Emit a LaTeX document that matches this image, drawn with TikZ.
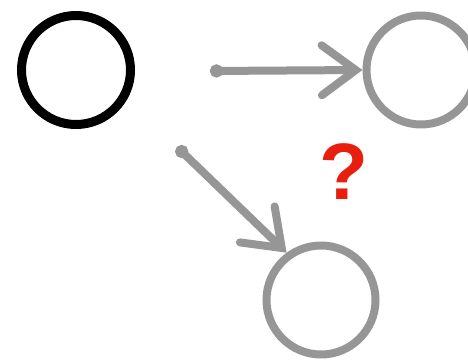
\documentclass[tikz,border=0pt]{standalone}
\usepackage{fontspec}
\setmainfont{Liberation Sans}
\usetikzlibrary{arrows.meta}
\definecolor{sketchgray}{RGB}{150,150,150}
\definecolor{qred}{RGB}{232,30,14}
\tikzset{
  blob/.style={circle, draw, inner sep=0pt, minimum size=109pt},
  sketchline/.style={draw=sketchgray, line width=8pt, line cap=round,
    {Circle[length=13pt]}-{Straight Barb[length=34pt, width=50pt, line cap=round]}},
}
\begin{document}
\begin{tikzpicture}[x=1pt, y=-1pt]
\useasboundingbox (0,0) rectangle (468,359);
\node[blob, draw=black, line width=9pt] (a) at (76,70) {};
\node[blob, draw=sketchgray, line width=8pt] (b) at (421,70) {};
\node[blob, draw=sketchgray, line width=8pt] (c) at (321,300) {};
\coordinate (t1) at (210,71);
\coordinate (t2) at (177,147);
\draw[sketchline] (t1) -- (b.west);
\draw[sketchline] (t2) -- (c.126);
\node[text=qred, font=\bfseries\fontsize{80}{80}\selectfont, inner sep=0pt] (q) at (344,172) {?};
\end{tikzpicture}
\end{document}
